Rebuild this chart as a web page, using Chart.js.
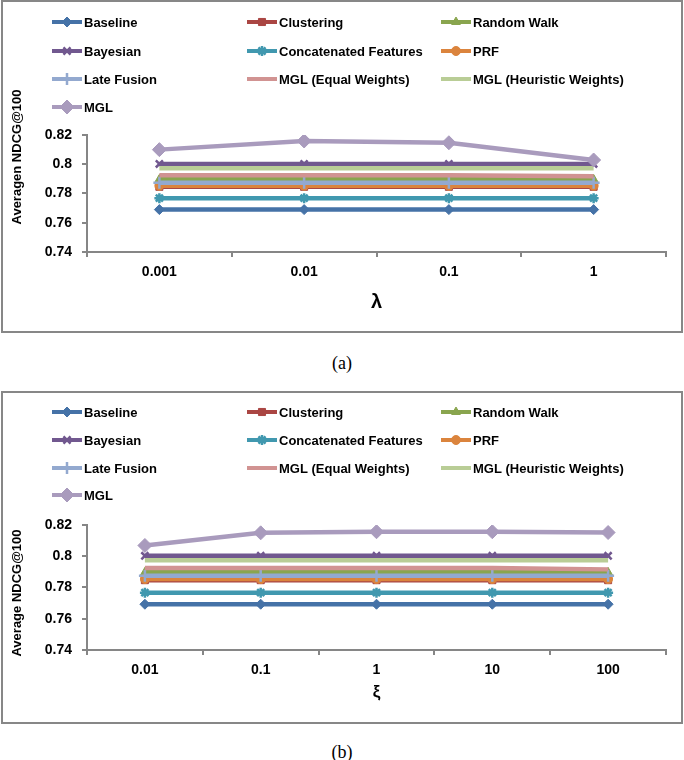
<!DOCTYPE html>
<html><head><meta charset="utf-8">
<script src="https://cdn.jsdelivr.net/npm/chart.js@4.4.1/dist/chart.umd.min.js"></script>
<style>
body{margin:0;background:#fff;width:684px;height:760px;position:relative;overflow:hidden;font-family:"Liberation Sans",Arial,sans-serif}
.box{position:absolute;left:1px;width:678px;height:329px;border:2px solid #878787;background:#fff}
.box canvas{position:absolute;left:0;top:0}
.cap{position:absolute;left:0;width:684px;text-align:center;font-family:"Liberation Serif","DejaVu Serif",serif;font-size:18px;line-height:20px}
</style></head><body>
<div class="box" style="top:0px"><canvas id="ca" width="678" height="329"></canvas></div>
<div class="cap" style="top:353px">(a)</div>
<div class="box" style="top:391px"><canvas id="cb" width="678" height="329"></canvas></div>
<div class="cap" style="top:742px">(b)</div>
<script>
// ---- data ----
const seriesNames = ['Baseline','Clustering','Random Walk','Bayesian','Concatenated Features','PRF','Late Fusion','MGL (Equal Weights)','MGL (Heuristic Weights)','MGL'];
const lambdaLabels = ['0.001','0.01','0.1','1'];
const xiLabels = ['0.01','0.1','1','10','100'];
const yTickValues = [0.74, 0.76, 0.78, 0.8, 0.82];

// chart (a): lambda
const aBaseline   = [0.769, 0.769, 0.769, 0.769];
const aClustering = [0.7846, 0.7846, 0.7846, 0.7846];
const aRandomWalk = [0.7897, 0.7897, 0.7897, 0.7897];
const aBayesian   = [0.8002, 0.8002, 0.8002, 0.8002];
const aConcat     = [0.7768, 0.7768, 0.7768, 0.7768];
const aPRF        = [0.7853, 0.7853, 0.7853, 0.7853];
const aLateFusion = [0.7874, 0.7874, 0.7874, 0.7874];
const aMGLEqual   = [0.7925, 0.7925, 0.7925, 0.7918];
const aMGLHeur    = [0.7972, 0.7972, 0.7972, 0.7972];
const aMGL        = [0.8100, 0.8159, 0.8147, 0.8029];

// chart (b): xi
const bBaseline   = [0.7693, 0.7693, 0.7693, 0.7693, 0.7693];
const bClustering = [0.7847, 0.7847, 0.7847, 0.7847, 0.7847];
const bRandomWalk = [0.7897, 0.7897, 0.7897, 0.7897, 0.7897];
const bBayesian   = [0.8003, 0.8003, 0.8003, 0.8003, 0.8003];
const bConcat     = [0.7767, 0.7767, 0.7767, 0.7767, 0.7767];
const bPRF        = [0.7854, 0.7854, 0.7854, 0.7854, 0.7854];
const bLateFusion = [0.7876, 0.7876, 0.7876, 0.7876, 0.7876];
const bMGLEqual   = [0.7925, 0.7925, 0.7925, 0.7925, 0.7916];
const bMGLHeur    = [0.7974, 0.7974, 0.7974, 0.7974, 0.7974];
const bMGL        = [0.8069, 0.8150, 0.8157, 0.8157, 0.8152];

// ---- styles ----
const colors  = ['#4572A7','#AA4643','#89A54E','#71588F','#4198AF','#DB843D','#93A9CF','#D19392','#B9CD96','#A99BBD'];
const markers = ['rectRot','rect','triangle','crossRot','star','circle','cross',false,false,'rectRot'];
const radii   = [5, 5, 5, 5, 5, 4.5, 6, 0, 0, 7];
const FONT = '"Liberation Sans", Arial, sans-serif';
const AXIS = '#868686';

const gridLegend = {
  id: 'gridLegend',
  afterDraw(chart, args, o) {
    const ctx = chart.ctx;
    ctx.save();
    chart.data.datasets.forEach((ds, i) => {
      const x = o.cols[i % 3], y = o.rows[Math.floor(i / 3)];
      ctx.strokeStyle = ds.borderColor; ctx.fillStyle = ds.borderColor;
      ctx.lineWidth = 4; ctx.lineCap = 'butt';
      ctx.beginPath(); ctx.moveTo(x, y); ctx.lineTo(x + 30, y); ctx.stroke();
      if (ds.pointStyle && ds.pointRadius > 0) {
        ctx.lineWidth = ds.pointBorderWidth;
        Chart.helpers.drawPoint(ctx, {pointStyle: ds.pointStyle, radius: ds.pointRadius, rotation: 0, borderWidth: ds.pointBorderWidth}, x + 15, y);
      }
      ctx.fillStyle = '#000';
      ctx.font = 'bold 13px ' + FONT;
      ctx.textBaseline = 'middle'; ctx.textAlign = 'left';
      ctx.fillText(ds.label, x + 32, y + 1);
    });
    ctx.restore();
  }
};
const yTitle = {
  id: 'yTitle',
  afterDraw(chart, args, o) {
    const c = chart.ctx;
    c.save(); c.translate(o.x, o.y); c.rotate(-Math.PI / 2);
    c.font = 'bold 13px ' + FONT; c.fillStyle = '#000';
    c.textAlign = 'center'; c.textBaseline = 'middle';
    c.fillText(o.text, 0, 0); c.restore();
  }
};

function makeChart(id, labels, series, cfg) {
  return new Chart(document.getElementById(id), {
    type: 'line',
    data: {
      labels: labels,
      datasets: seriesNames.map((n, i) => ({
        label: n, data: series[i],
        borderColor: colors[i], backgroundColor: colors[i],
        pointBackgroundColor: colors[i], pointBorderColor: colors[i],
        borderWidth: 4.5, pointStyle: markers[i], pointRadius: radii[i],
        pointBorderWidth: (markers[i] === 'crossRot' || markers[i] === 'star' || markers[i] === 'cross') ? 2.5 : 1,
        tension: 0, order: -i, fill: false
      }))
    },
    options: {
      responsive: false, animation: false, events: [],
      layout: {padding: {top: cfg.top, right: 15, left: 0, bottom: 0}},
      plugins: {
        legend: {display: false}, tooltip: {enabled: false},
        gridLegend: {cols: cfg.cols, rows: cfg.rows},
        yTitle: {x: 14, y: cfg.ytY, text: cfg.ytitle}
      },
      scales: {
        x: {
          type: 'category', offset: true,
          grid: {offset: true, drawOnChartArea: false, drawTicks: true, tickLength: 5, color: AXIS, lineWidth: 2},
          border: {display: true, color: AXIS, width: 2},
          ticks: {color: '#000', font: {family: FONT, size: 14, weight: 'bold'}, padding: 7, maxRotation: 0, autoSkip: false},
          title: {display: true, text: cfg.xtitle, color: '#000', font: {family: FONT, size: cfg.xtSize, weight: 'bold'}, padding: {top: 0, bottom: cfg.xtPad}},
          afterFit(s) { s.height = cfg.xh; }
        },
        y: {
          min: 0.74, max: 0.82,
          afterBuildTicks(s) { s.ticks = yTickValues.map(v => ({value: v})); },
          grid: {drawOnChartArea: false, drawTicks: true, tickLength: 5, color: AXIS, lineWidth: 2},
          border: {display: true, color: AXIS, width: 2},
          ticks: {color: '#000', font: {family: FONT, size: 14, weight: 'bold'}, padding: 10, callback: v => String(Number(v.toFixed(2)))},
          afterFit(s) { s.width = 84; }
        }
      }
    },
    plugins: [gridLegend, yTitle]
  });
}

makeChart('ca', lambdaLabels,
  [aBaseline, aClustering, aRandomWalk, aBayesian, aConcat, aPRF, aLateFusion, aMGLEqual, aMGLHeur, aMGL],
  {top: 133, xh: 79, cols: [49, 244, 438], rows: [20, 49, 77, 105], ytY: 155, ytitle: 'Averagen NDCG@100', xtitle: 'λ', xtSize: 20, xtPad: 17});
makeChart('cb', xiLabels,
  [bBaseline, bClustering, bRandomWalk, bBayesian, bConcat, bPRF, bLateFusion, bMGLEqual, bMGLHeur, bMGL],
  {top: 132, xh: 72, cols: [49, 244, 438], rows: [19, 47, 75, 102], ytY: 200, ytitle: 'Average NDCG@100', xtitle: 'ξ', xtSize: 17, xtPad: 19});
</script>
</body></html>
